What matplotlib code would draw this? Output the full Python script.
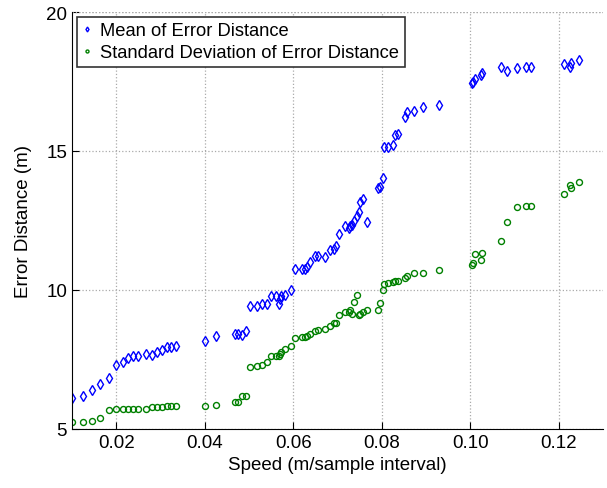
import numpy as np
import matplotlib.pyplot as plt

plt.rcParams['font.family'] = ['Liberation Sans', 'DejaVu Sans']

# speeds (m/sample interval), shared by both series
speed = [0.0100, 0.01245, 0.0146, 0.01625, 0.0183, 0.0200, 0.02155, 0.02268, 0.0238, 0.0250,
         0.0267, 0.0280, 0.0293, 0.0303, 0.0314, 0.0324, 0.0335,
         0.0401, 0.0426, 0.0469, 0.0475, 0.0485, 0.0494,
         0.0502, 0.0519, 0.0530, 0.0541, 0.0550, 0.0560, 0.0568, 0.0570, 0.0573, 0.0581, 0.0596,
         0.0603, 0.0620, 0.0626, 0.0631, 0.0638, 0.0650, 0.0657, 0.0672, 0.0683, 0.0693, 0.0697,
         0.0704, 0.0717, 0.0725, 0.0728, 0.0732, 0.0737, 0.0744, 0.0749, 0.0750, 0.0757, 0.0767,
         0.0791, 0.0795, 0.0803, 0.0804, 0.0814,
         0.0825, 0.0829, 0.0837, 0.0852, 0.0857, 0.0872, 0.0894, 0.0930,
         0.1004, 0.1007, 0.1010, 0.1024, 0.1026,
         0.1069, 0.1084, 0.1106, 0.1125, 0.1138, 0.1212, 0.1225, 0.1228, 0.1245]

mean_err = [6.10, 6.20, 6.41, 6.62, 6.82, 7.30, 7.40, 7.54, 7.61, 7.64,
            7.71, 7.66, 7.76, 7.85, 7.95, 7.95, 8.00,
            8.18, 8.33, 8.42, 8.42, 8.38, 8.51,
            9.41, 9.41, 9.49, 9.51, 9.77, 9.77, 9.49, 9.68, 9.77, 9.82, 10.00,
            10.76, 10.76, 10.76, 10.82, 11.02, 11.21, 11.21, 11.18, 11.44, 11.47, 11.59,
            12.01, 12.29, 12.22, 12.29, 12.34, 12.49, 12.67, 12.79, 13.18, 13.27, 12.44,
            13.66, 13.72, 14.03, 15.13, 15.13,
            15.22, 15.58, 15.61, 16.21, 16.41, 16.45, 16.59, 16.67,
            17.45, 17.50, 17.58, 17.75, 17.82,
            18.01, 17.87, 17.99, 18.02, 18.02, 18.12, 18.01, 18.17, 18.26]

std_err = [5.24, 5.26, 5.30, 5.38, 5.68, 5.72, 5.72, 5.72, 5.72, 5.72,
           5.72, 5.78, 5.80, 5.80, 5.82, 5.82, 5.84,
           5.82, 5.87, 5.96, 5.98, 6.18, 6.20,
           7.24, 7.26, 7.31, 7.42, 7.64, 7.64, 7.64, 7.70, 7.76, 7.88, 8.00,
           8.27, 8.30, 8.30, 8.33, 8.42, 8.54, 8.56, 8.60, 8.72, 8.80, 8.82,
           9.10, 9.20, 9.22, 9.29, 9.14, 9.58, 9.82, 9.10, 9.14, 9.20, 9.29,
           9.29, 9.52, 10.01, 10.21, 10.24,
           10.30, 10.31, 10.33, 10.42, 10.51, 10.60, 10.60, 10.72,
           10.90, 10.96, 11.29, 11.08, 11.33,
           11.77, 12.43, 12.97, 13.01, 13.02, 13.45, 13.79, 13.67, 13.88]

x_ticks = [0.02, 0.04, 0.06, 0.08, 0.10, 0.12]
x_ticklabels = ['0.02', '0.04', '0.06', '0.08', '0.10', '0.12']
y_ticks = [5, 10, 15, 20]

fig = plt.figure(figsize=(6.07, 4.89), dpi=100)
ax = fig.add_axes([0.1186, 0.1207, 0.8748, 0.8527])

ax.plot(speed, mean_err, linestyle='none', marker='d', markersize=5,
        markerfacecolor='none', markeredgecolor='#0000ff', markeredgewidth=1.0,
        label='Mean of Error Distance')
ax.plot(speed, std_err, linestyle='none', marker='o', markersize=4.3,
        markerfacecolor='none', markeredgecolor='#008000', markeredgewidth=1.0,
        label='Standard Deviation of Error Distance')

ax.set_xlim(0.01, 0.13)
ax.set_ylim(5, 20)
ax.set_xticks(x_ticks)
ax.set_xticklabels(x_ticklabels)
ax.set_yticks(y_ticks)
ax.tick_params(direction='in', length=5, labelsize=13.5, width=0.8)

for side in ['top', 'right']:
    ax.spines[side].set_visible(False)

ax.grid(True, linestyle=':', color='#aaaaaa', linewidth=0.9)
ax.axhline(20, linestyle=':', color='#aaaaaa', linewidth=0.9)

ax.set_xlabel('Speed (m/sample interval)', fontsize=13.5)
ax.set_ylabel('Error Distance (m)', fontsize=13.5, labelpad=10)

leg = ax.legend(loc='upper left', fontsize=13.2, fancybox=False, framealpha=1,
                edgecolor='#333333', handlelength=0.5, handletextpad=0.5,
                borderpad=0.3, labelspacing=0.28, markerscale=0.5,
                borderaxespad=0.25)
leg.get_frame().set_linewidth(1.2)

fig.savefig('out.png', dpi=100)
